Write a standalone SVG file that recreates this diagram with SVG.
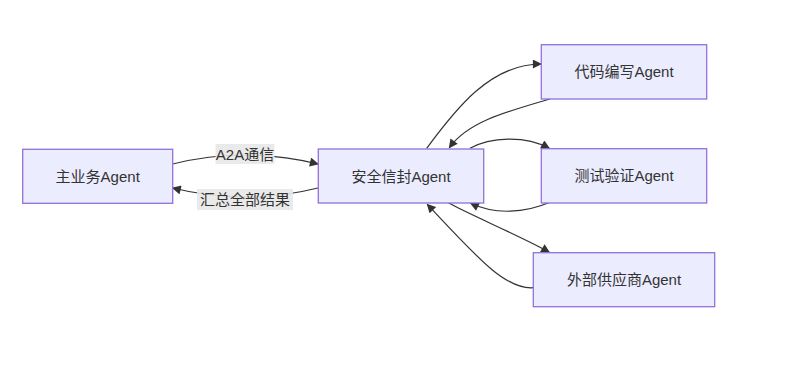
<svg xmlns="http://www.w3.org/2000/svg" width="794" height="371" viewBox="0 0 794 371">
<style>
.node rect{fill:#ECECFF;stroke:#9370DB;stroke-width:1.3}
text{font-family:"Liberation Sans","Noto Sans CJK SC",sans-serif;font-size:15px;fill:#333;text-anchor:middle}
.edge{fill:none;stroke:#333;stroke-width:1.2;marker-end:url(#arrow)}
.lbl{fill:#e8e8e8;fill-opacity:0.9}
</style>
<defs>
<marker id="arrow" viewBox="0 0 10 10" refX="9" refY="5" markerUnits="userSpaceOnUse" markerWidth="10" markerHeight="9" orient="auto">
<path d="M0,0 L10,5 L0,10 z" fill="#333"/>
</marker>
</defs>
<g id="edges">
<path class="edge" d="M172.7,164 Q245,146 318,164"/>
<path class="edge" d="M318,188 Q245,206 172.7,188"/>
<path class="edge" d="M426.7,148.3 C455,110 490,64 541,64"/>
<path class="edge" d="M550,99 C505,112 468,122 449.3,147.7"/>
<path class="edge" d="M470,148.3 C490,137 525,135 549.3,148.3"/>
<path class="edge" d="M550,202.3 C525,213 495,215 470.7,203.3"/>
<path class="edge" d="M447.3,202.3 C470,215 525,238 549.3,252.3"/>
<path class="edge" d="M533.3,287.7 C505,290 475,255 427.3,204.3"/>
<g id="edge-labels">
<rect class="lbl" x="215.5" y="144" width="59" height="20"/>
<text x="245" y="159.5">A2A通信</text>
<rect class="lbl" x="197" y="189" width="96" height="21"/>
<text x="245" y="204.5">汇总全部结果</text>
</g>
</g>
<g id="main" class="node"><rect x="22.7" y="149.3" width="150" height="54"/><text x="97.7" y="181.5">主业务Agent</text></g>
<g id="envelope" class="node"><rect x="318.3" y="149" width="165.4" height="54"/><text x="401" y="181.5">安全信封Agent</text></g>
<g id="coder" class="node"><rect x="541.3" y="44.7" width="165.4" height="54.3"/><text x="624" y="77">代码编写Agent</text></g>
<g id="tester" class="node"><rect x="541.3" y="148.7" width="165.4" height="54.3"/><text x="624" y="181">测试验证Agent</text></g>
<g id="vendor" class="node"><rect x="533.3" y="252.7" width="181.4" height="54"/><text x="624" y="285">外部供应商Agent</text></g>
</svg>
